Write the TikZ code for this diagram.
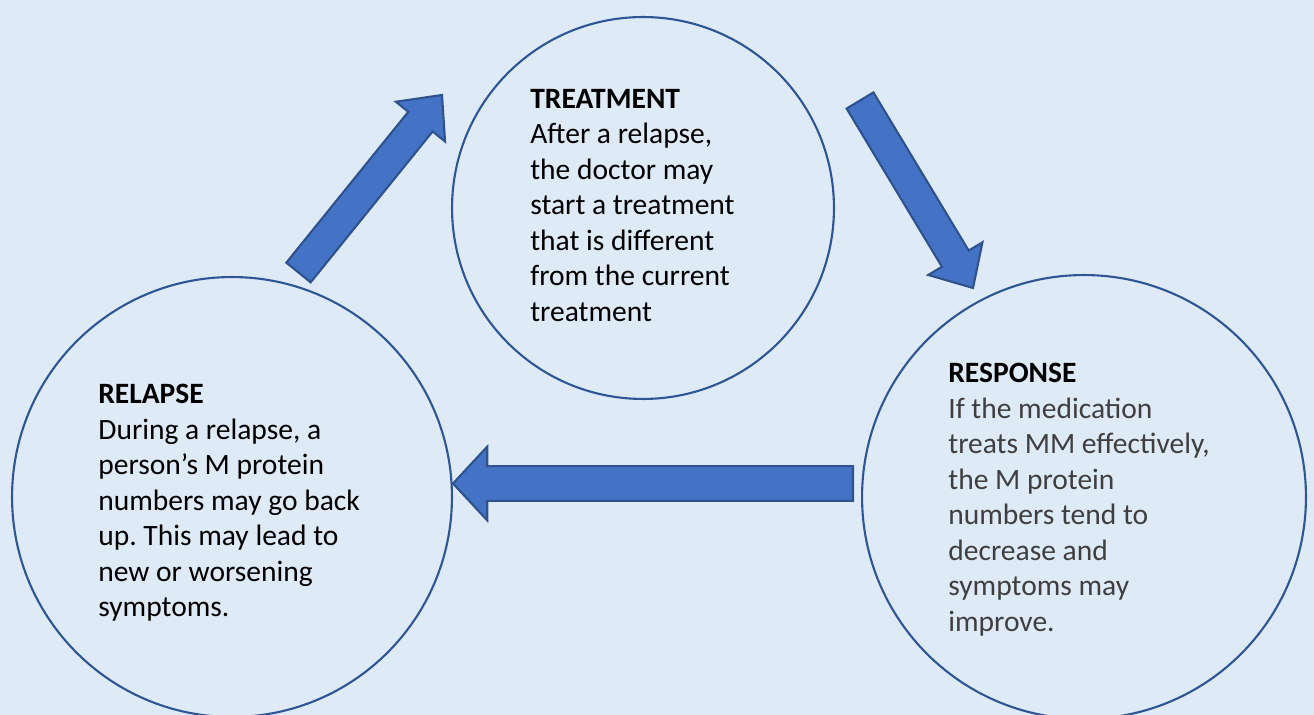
\documentclass[tikz,border=0pt]{standalone}
\usepackage{fontspec}
\setmainfont{Carlito}
\usetikzlibrary{calc}
\frenchspacing

\definecolor{pagebg}{HTML}{DEEAF6}
\definecolor{ringblue}{HTML}{2F5597}
\definecolor{arrowfill}{HTML}{4472C4}
\definecolor{arrowedge}{HTML}{2F528F}
\definecolor{bodygray}{HTML}{3F3F3F}

% block arrow from #1 to #2, shaft half width #3, head half width #4
\newcommand{\blockarrow}[4]{
  \coordinate (neck) at ($(#2)!19.5pt!(#1)$);
  \draw[blockarrow]
    ($(#1)!#3!90:(#2)$) -- ($(neck)!#3!90:(#2)$) -- ($(neck)!#4!90:(#2)$)
    -- (#2)
    -- ($(neck)!#4!-90:(#2)$) -- ($(neck)!#3!-90:(#2)$) -- ($(#1)!#3!-90:(#2)$)
    -- cycle;
}

\begin{document}
\begin{tikzpicture}[
  x=0.02cm, y=-0.02cm,
  ring/.style={circle, draw=ringblue, line width=1.2pt, inner sep=0pt},
  blockarrow/.style={fill=arrowfill, draw=arrowedge, line width=1.2pt, line join=miter},
  cycletext/.style={anchor=north west, align=left, inner sep=0pt,
    font={\fontsize{16.8}{20.2}\selectfont}}
  ]
  % page background, fixes the margins
  \fill[pagebg] (0,0) rectangle (1314,715);
  \useasboundingbox (0,0) rectangle (1314,715);

  %% the three stages
  \node[ring, minimum size=7.64cm] (treatment) at (643,208) {};
  \node[ring, minimum size=8.8cm] (relapse) at (232,497) {};
  \node[ring, minimum size=8.88cm] (response) at (1084,497) {};

  \node[cycletext] (treatmenttext) at (530,89) {%
    \textbf{TREATMENT}\\
    After a relapse,\\
    the doctor may\\
    start a treatment\\
    that is different\\
    from the current\\
    treatment};

  \node[cycletext] (relapsetext) at (98,384) {%
    \textbf{RELAPSE}\\
    During a relapse, a\\
    person’s M protein\\
    numbers may go back\\
    up. This may lead to\\
    new or worsening\\
    symptoms.};

  \node[cycletext] (responsetext) at (948,363) {%
    \textbf{RESPONSE}\\
    \color{bodygray}If the medication\\
    \color{bodygray}treats MM effectively,\\
    \color{bodygray}the M protein\\
    \color{bodygray}numbers tend to\\
    \color{bodygray}decrease and\\
    \color{bodygray}symptoms may\\
    \color{bodygray}improve.};

  %% arrows between the stages
  \coordinate (uptail) at (298.5,272.5);
  \coordinate (uptip) at (442,95);
  \coordinate (downtail) at (860,100.5);
  \coordinate (downtip) at (973,288);
  \coordinate (backtail) at (853,483.5);
  \coordinate (backtip) at (453,483.5);

  \blockarrow{uptail}{uptip}{8.9pt}{18pt}
  \blockarrow{downtail}{downtip}{8.9pt}{18pt}
  \blockarrow{backtail}{backtip}{9.9pt}{21pt}

\end{tikzpicture}
\end{document}
